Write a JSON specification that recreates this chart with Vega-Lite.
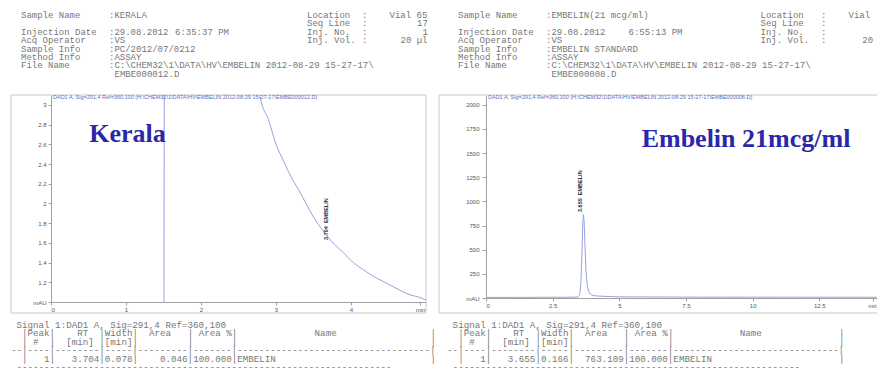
{
  "$schema": "https://vega.github.io/schema/vega-lite/v6.json",
  "padding": {"left": 10, "top": 0, "right": 0, "bottom": 0},
  "bounds": "flush",
  "align": "each",
  "columns": 2,
  "spacing": {"row": 5, "column": 60},
  "config": {
    "view": {"stroke": null},
    "font": "Liberation Sans",
    "axis": {"domainColor": "#a0a0a0", "tickColor": "#a0a0a0", "labelColor": "#555555", "labelFontSize": 6, "labelFont": "Liberation Sans", "tickSize": 3, "labelPadding": 1, "grid": false, "labelOverlap": false}
  },
  "datasets": {
    "hdrL": [
      {"c": 0, "line": 0, "s": "Sample Name"}, {"c": 16, "line": 0, "s": ":KERALA"}, {"c": 52, "line": 0, "s": "Location"}, {"c": 62, "line": 0, "s": ":"}, {"c": 67, "line": 0, "s": "Vial 65"},
      {"c": 52, "line": 1, "s": "Seq Line"}, {"c": 62, "line": 1, "s": ":"}, {"c": 72, "line": 1, "s": "17"},
      {"c": 0, "line": 2, "s": "Injection Date"}, {"c": 16, "line": 2, "s": ":29.08.2012"}, {"c": 28, "line": 2, "s": "6:35:37 PM"}, {"c": 52, "line": 2, "s": "Inj. No."}, {"c": 62, "line": 2, "s": ":"}, {"c": 73, "line": 2, "s": "1"},
      {"c": 0, "line": 3, "s": "Acq Operator"}, {"c": 16, "line": 3, "s": ":VS"}, {"c": 52, "line": 3, "s": "Inj. Vol."}, {"c": 62, "line": 3, "s": ":"}, {"c": 69, "line": 3, "s": "20 µl"},
      {"c": 0, "line": 4, "s": "Sample Info"}, {"c": 16, "line": 4, "s": ":PC/2012/07/0212"},
      {"c": 0, "line": 5, "s": "Method Info"}, {"c": 16, "line": 5, "s": ":ASSAY"},
      {"c": 0, "line": 6, "s": "File Name"}, {"c": 16, "line": 6, "s": ":C:\\CHEM32\\1\\DATA\\HV\\EMBELIN 2012-08-29 15-27-17\\"},
      {"c": 17, "line": 7, "s": "EMBE000012.D"}
    ],
    "hdrR": [
      {"c": 0, "line": 0, "s": "Sample Name"}, {"c": 16, "line": 0, "s": ":EMBELIN(21 mcg/ml)"}, {"c": 55, "line": 0, "s": "Location"}, {"c": 66, "line": 0, "s": ":"}, {"c": 71, "line": 0, "s": "Vial"},
      {"c": 55, "line": 1, "s": "Seq Line"}, {"c": 66, "line": 1, "s": ":"},
      {"c": 0, "line": 2, "s": "Injection Date"}, {"c": 16, "line": 2, "s": ":29.08.2012"}, {"c": 31, "line": 2, "s": "6:55:13 PM"}, {"c": 55, "line": 2, "s": "Inj. No."}, {"c": 66, "line": 2, "s": ":"},
      {"c": 0, "line": 3, "s": "Acq Operator"}, {"c": 16, "line": 3, "s": ":VS"}, {"c": 55, "line": 3, "s": "Inj. Vol."}, {"c": 66, "line": 3, "s": ":"}, {"c": 73.5, "line": 3, "s": "20"},
      {"c": 0, "line": 4, "s": "Sample Info"}, {"c": 16, "line": 4, "s": ":EMBELIN STANDARD"},
      {"c": 0, "line": 5, "s": "Method Info"}, {"c": 16, "line": 5, "s": ":ASSAY"},
      {"c": 0, "line": 6, "s": "File Name"}, {"c": 16, "line": 6, "s": ":C:\\CHEM32\\1\\DATA\\HV\\EMBELIN 2012-08-29 15-27-17\\"},
      {"c": 17, "line": 7, "s": "EMBE000008.D"}
    ],
    "tblL": [
      {"c": 1, "line": 0, "s": "Signal 1:DAD1 A, Sig=291,4 Ref=360,100"},
      {"c": 2, "line": 1, "s": "|Peak|"}, {"c": 12, "line": 1, "s": "RT"}, {"c": 16, "line": 1, "s": "|"}, {"c": 17, "line": 1, "s": "Width"}, {"c": 22, "line": 1, "s": "|"}, {"c": 25, "line": 1, "s": "Area"}, {"c": 32, "line": 1, "s": "|"}, {"c": 34, "line": 1, "s": "Area %"}, {"c": 40, "line": 1, "s": "|"}, {"c": 55, "line": 1, "s": "Name"}, {"c": 76, "line": 1, "s": "|"},
      {"c": 2, "line": 2, "s": "|"}, {"c": 4, "line": 2, "s": "#"}, {"c": 7, "line": 2, "s": "|"}, {"c": 10, "line": 2, "s": "[min]"}, {"c": 16, "line": 2, "s": "|"}, {"c": 17, "line": 2, "s": "[min]"}, {"c": 22, "line": 2, "s": "|"}, {"c": 32, "line": 2, "s": "|"}, {"c": 40, "line": 2, "s": "|"}, {"c": 76, "line": 2, "s": "|"},
      {"c": 0, "line": 3, "s": "--|----|--------|-----|---------|-------|-----------------------------------|"},
      {"c": 2, "line": 4, "s": "|"}, {"c": 6, "line": 4, "s": "1|"}, {"c": 11, "line": 4, "s": "3.704|"}, {"c": 17, "line": 4, "s": "0.078|"}, {"c": 27, "line": 4, "s": "0.046|"}, {"c": 33, "line": 4, "s": "100.000|EMBELIN"}, {"c": 76, "line": 4, "s": "|"},
      {"c": 1, "line": 5, "s": "--------------------------------------------------------------------"}
    ],
    "tblR": [
      {"c": 1, "line": 0, "s": "Signal 1:DAD1 A, Sig=291,4 Ref=360,100"},
      {"c": 2, "line": 1, "s": "|Peak|"}, {"c": 12, "line": 1, "s": "RT"}, {"c": 16, "line": 1, "s": "|"}, {"c": 17, "line": 1, "s": "Width"}, {"c": 22, "line": 1, "s": "|"}, {"c": 25, "line": 1, "s": "Area"}, {"c": 32, "line": 1, "s": "|"}, {"c": 34, "line": 1, "s": "Area %"}, {"c": 40, "line": 1, "s": "|"}, {"c": 53, "line": 1, "s": "Name"}, {"c": 71, "line": 1, "s": "|"},
      {"c": 2, "line": 2, "s": "|"}, {"c": 4, "line": 2, "s": "#"}, {"c": 7, "line": 2, "s": "|"}, {"c": 10, "line": 2, "s": "[min]"}, {"c": 16, "line": 2, "s": "|"}, {"c": 17, "line": 2, "s": "[min]"}, {"c": 22, "line": 2, "s": "|"}, {"c": 32, "line": 2, "s": "|"}, {"c": 40, "line": 2, "s": "|"}, {"c": 71, "line": 2, "s": "|"},
      {"c": 0, "line": 3, "s": "--|----|--------|-----|---------|-------|------------------------------|"},
      {"c": 2, "line": 4, "s": "|"}, {"c": 6, "line": 4, "s": "1|"}, {"c": 11, "line": 4, "s": "3.655|"}, {"c": 17, "line": 4, "s": "0.166|"}, {"c": 25, "line": 4, "s": "763.109|"}, {"c": 33, "line": 4, "s": "100.000|EMBELIN"}, {"c": 71, "line": 4, "s": "|"},
      {"c": 1, "line": 5, "s": "---------------------------------------------------------------"}
    ],
    "kerala": [
      {"t": 0, "v": 0.95}, {"t": 1.505, "v": 0.95}, {"t": 1.515, "v": 6}, {"t": 2.70, "v": 3.9}, {"t": 2.76, "v": 3.2},
      {"t": 2.80, "v": 3.04}, {"t": 2.9, "v": 2.85}, {"t": 3.0, "v": 2.6}, {"t": 3.1, "v": 2.43}, {"t": 3.2, "v": 2.27},
      {"t": 3.3, "v": 2.14}, {"t": 3.4, "v": 2.0}, {"t": 3.5, "v": 1.86}, {"t": 3.6, "v": 1.75}, {"t": 3.7, "v": 1.65},
      {"t": 3.8, "v": 1.57}, {"t": 3.9, "v": 1.5}, {"t": 4.0, "v": 1.42}, {"t": 4.1, "v": 1.36}, {"t": 4.2, "v": 1.31},
      {"t": 4.3, "v": 1.26}, {"t": 4.4, "v": 1.22}, {"t": 4.5, "v": 1.18}, {"t": 4.6, "v": 1.14}, {"t": 4.7, "v": 1.10},
      {"t": 4.8, "v": 1.07}, {"t": 4.9, "v": 1.05}, {"t": 5.0, "v": 1.02}
    ],
    "embelin": [
      {"t": 0, "v": 6}, {"t": 1, "v": 6}, {"t": 2, "v": 7}, {"t": 3, "v": 8}, {"t": 3.45, "v": 10}, {"t": 3.52, "v": 40},
      {"t": 3.56, "v": 160}, {"t": 3.6, "v": 480}, {"t": 3.63, "v": 790}, {"t": 3.655, "v": 862}, {"t": 3.68, "v": 790},
      {"t": 3.71, "v": 560}, {"t": 3.75, "v": 280}, {"t": 3.8, "v": 120}, {"t": 3.87, "v": 55}, {"t": 3.95, "v": 32},
      {"t": 4.1, "v": 22}, {"t": 4.5, "v": 16}, {"t": 5, "v": 12}, {"t": 8, "v": 9}, {"t": 14.7, "v": 8}
    ],
    "kpk": [{"t": 3.704, "v": 1.63, "s": "3.704\u00a0\u00a0EMBELIN"}],
    "epk": [{"t": 3.655, "v": 890, "s": "3.655\u00a0\u00a0EMBELIN"}],
    "one": [{}]
  },
  "concat": [
    {
      "width": 375, "height": 90,
      "data": {"name": "hdrL"},
      "mark": {"type": "text", "align": "left", "baseline": "middle", "font": "Liberation Mono", "fontSize": 9, "color": "#777777"},
      "encoding": {
        "x": {"field": "c", "type": "quantitative", "scale": {"domain": [5.4545, 73.636], "nice": false, "zero": false}, "axis": null},
        "y": {"field": "line", "type": "quantitative", "scale": {"domain": [-1.786, 8.929], "reverse": true, "nice": false, "zero": false}, "axis": null},
        "text": {"field": "s"}
      }
    },
    {
      "width": 392, "height": 90,
      "data": {"name": "hdrR"},
      "mark": {"type": "text", "align": "left", "baseline": "middle", "font": "Liberation Mono", "fontSize": 9, "color": "#777777"},
      "encoding": {
        "x": {"field": "c", "type": "quantitative", "scale": {"domain": [5.091, 76.364], "nice": false, "zero": false}, "axis": null},
        "y": {"field": "line", "type": "quantitative", "scale": {"domain": [-1.786, 8.929], "reverse": true, "nice": false, "zero": false}, "axis": null},
        "text": {"field": "s"}
      }
    },
    {
      "width": 375, "height": 207,
      "title": {"text": "DAD1 A, Sig=291,4 Ref=360,100 (H:\\CHEM32\\1\\DATA\\HV\\EMBELIN 2012-08-29 15-27-17\\EMBE000012.D)", "anchor": "start", "frame": "group", "offset": -6, "fontSize": 5.5, "fontWeight": "normal", "color": "#5b6bc8", "font": "Liberation Sans", "dx": 2},
      "layer": [
        {
          "data": {"name": "one"},
          "mark": {"type": "rect", "filled": false, "color": "#c8c8c8", "strokeWidth": 1},
          "encoding": {
            "x": {"datum": -0.533, "type": "quantitative", "scale": {"domain": [0, 5], "nice": false, "zero": false},
                  "axis": {"title": null, "labelOverlap": false, "values": [0, 1, 2, 3, 4, 4.92], "labelExpr": "datum.value > 4.5 ? 'min' : format(datum.value, '~g')"}},
            "x2": {"datum": 5},
            "y": {"datum": 3.1, "type": "quantitative", "scale": {"domain": [1, 3.1], "nice": false, "zero": false},
                  "axis": {"title": null, "labelOverlap": false, "values": [1, 1.2, 1.4, 1.6, 1.8, 2, 2.2, 2.4, 2.6, 2.8, 3], "labelPadding": 2, "labelExpr": "datum.value == 1 ? 'mAU' : format(datum.value, '~g')"}},
            "y2": {"datum": 0.888}
          }
        },
        {
          "data": {"name": "kerala"},
          "mark": {"type": "line", "clip": true, "color": "#9ba1de", "strokeWidth": 1, "interpolate": "monotone"},
          "encoding": {
            "x": {"field": "t", "type": "quantitative", "scale": {"domain": [0, 5], "nice": false, "zero": false},
                  "axis": {"title": null, "labelOverlap": false, "values": [0, 1, 2, 3, 4, 4.92], "labelExpr": "datum.value > 4.5 ? 'min' : format(datum.value, '~g')"}},
            "y": {"field": "v", "type": "quantitative", "scale": {"domain": [1, 3.1], "nice": false, "zero": false},
                  "axis": {"title": null, "labelOverlap": false, "values": [1, 1.2, 1.4, 1.6, 1.8, 2, 2.2, 2.4, 2.6, 2.8, 3], "labelPadding": 2, "labelExpr": "datum.value == 1 ? 'mAU' : format(datum.value, '~g')"}}
          }
        },
        {
          "data": {"name": "kpk"},
          "mark": {"type": "text", "angle": 270, "align": "left", "baseline": "bottom", "fontSize": 5.5, "fontWeight": "bold", "color": "#333333"},
          "encoding": {
            "x": {"field": "t", "type": "quantitative", "scale": {"domain": [0, 5], "nice": false, "zero": false},
                  "axis": {"title": null, "labelOverlap": false, "values": [0, 1, 2, 3, 4, 4.92], "labelExpr": "datum.value > 4.5 ? 'min' : format(datum.value, '~g')"}},
            "y": {"field": "v", "type": "quantitative", "scale": {"domain": [1, 3.1], "nice": false, "zero": false},
                  "axis": {"title": null, "labelOverlap": false, "values": [1, 1.2, 1.4, 1.6, 1.8, 2, 2.2, 2.4, 2.6, 2.8, 3], "labelPadding": 2, "labelExpr": "datum.value == 1 ? 'mAU' : format(datum.value, '~g')"}},
            "text": {"field": "s"}
          }
        },
        {
          "data": {"name": "one"},
          "mark": {"type": "text", "text": "Kerala", "font": "Liberation Serif", "fontWeight": "bold", "fontSize": 26, "color": "#2a28a8", "align": "center", "baseline": "alphabetic"},
          "encoding": {
            "x": {"datum": 1.02, "type": "quantitative", "scale": {"domain": [0, 5], "nice": false, "zero": false},
                  "axis": {"title": null, "labelOverlap": false, "values": [0, 1, 2, 3, 4, 4.92], "labelExpr": "datum.value > 4.5 ? 'min' : format(datum.value, '~g')"}},
            "y": {"datum": 2.62, "type": "quantitative", "scale": {"domain": [1, 3.1], "nice": false, "zero": false},
                  "axis": {"title": null, "labelOverlap": false, "values": [1, 1.2, 1.4, 1.6, 1.8, 2, 2.2, 2.4, 2.6, 2.8, 3], "labelPadding": 2, "labelExpr": "datum.value == 1 ? 'mAU' : format(datum.value, '~g')"}}
          }
        }
      ]
    },
    {
      "width": 392, "height": 203,
      "title": {"text": "DAD1 A, Sig=291,4 Ref=360,100 (H:\\CHEM32\\1\\DATA\\HV\\EMBELIN 2012-08-29 15-27-17\\EMBE000008.D)", "anchor": "start", "frame": "group", "offset": -6, "fontSize": 5.5, "fontWeight": "normal", "color": "#5b6bc8", "font": "Liberation Sans", "dx": 2},
      "layer": [
        {
          "data": {"name": "one"},
          "mark": {"type": "rect", "filled": false, "color": "#c8c8c8", "strokeWidth": 1},
          "encoding": {
            "x": {"datum": -1.76, "type": "quantitative", "scale": {"domain": [0, 14.7], "nice": false, "zero": false},
                  "axis": {"title": null, "labelOverlap": false, "values": [0, 2.5, 5, 7.5, 10, 12.5, 14.5], "labelExpr": "datum.value > 14 ? 'min' : format(datum.value, '~g')"}},
            "x2": {"datum": 15},
            "y": {"datum": 2100, "type": "quantitative", "scale": {"domain": [0, 2100], "nice": false, "zero": false},
                  "axis": {"title": null, "labelOverlap": false, "values": [0, 250, 500, 750, 1000, 1250, 1500, 1750, 2000], "tickSize": 4, "labelPadding": 3, "labelExpr": "datum.value == 0 ? 'mAU' : format(datum.value, 'd')"}},
            "y2": {"datum": -155}
          }
        },
        {
          "data": {"name": "embelin"},
          "mark": {"type": "line", "clip": true, "color": "#9ba1de", "strokeWidth": 1},
          "encoding": {
            "x": {"field": "t", "type": "quantitative", "scale": {"domain": [0, 14.7], "nice": false, "zero": false},
                  "axis": {"title": null, "labelOverlap": false, "values": [0, 2.5, 5, 7.5, 10, 12.5, 14.5], "labelExpr": "datum.value > 14 ? 'min' : format(datum.value, '~g')"}},
            "y": {"field": "v", "type": "quantitative", "scale": {"domain": [0, 2100], "nice": false, "zero": false},
                  "axis": {"title": null, "labelOverlap": false, "values": [0, 250, 500, 750, 1000, 1250, 1500, 1750, 2000], "tickSize": 4, "labelPadding": 3, "labelExpr": "datum.value == 0 ? 'mAU' : format(datum.value, 'd')"}}
          }
        },
        {
          "data": {"name": "epk"},
          "mark": {"type": "text", "angle": 270, "align": "left", "baseline": "bottom", "fontSize": 5.5, "fontWeight": "bold", "color": "#333333"},
          "encoding": {
            "x": {"field": "t", "type": "quantitative", "scale": {"domain": [0, 14.7], "nice": false, "zero": false},
                  "axis": {"title": null, "labelOverlap": false, "values": [0, 2.5, 5, 7.5, 10, 12.5, 14.5], "labelExpr": "datum.value > 14 ? 'min' : format(datum.value, '~g')"}},
            "y": {"field": "v", "type": "quantitative", "scale": {"domain": [0, 2100], "nice": false, "zero": false},
                  "axis": {"title": null, "labelOverlap": false, "values": [0, 250, 500, 750, 1000, 1250, 1500, 1750, 2000], "tickSize": 4, "labelPadding": 3, "labelExpr": "datum.value == 0 ? 'mAU' : format(datum.value, 'd')"}},
            "text": {"field": "s"}
          }
        },
        {
          "data": {"name": "one"},
          "mark": {"type": "text", "text": "Embelin 21mcg/ml", "font": "Liberation Serif", "fontWeight": "bold", "fontSize": 26, "color": "#2a28a8", "align": "center", "baseline": "alphabetic"},
          "encoding": {
            "x": {"datum": 9.75, "type": "quantitative", "scale": {"domain": [0, 14.7], "nice": false, "zero": false},
                  "axis": {"title": null, "labelOverlap": false, "values": [0, 2.5, 5, 7.5, 10, 12.5, 14.5], "labelExpr": "datum.value > 14 ? 'min' : format(datum.value, '~g')"}},
            "y": {"datum": 1565, "type": "quantitative", "scale": {"domain": [0, 2100], "nice": false, "zero": false},
                  "axis": {"title": null, "labelOverlap": false, "values": [0, 250, 500, 750, 1000, 1250, 1500, 1750, 2000], "tickSize": 4, "labelPadding": 3, "labelExpr": "datum.value == 0 ? 'mAU' : format(datum.value, 'd')"}}
          }
        }
      ]
    },
    {
      "width": 375, "height": 65,
      "data": {"name": "tblL"},
      "mark": {"type": "text", "align": "left", "baseline": "middle", "font": "Liberation Mono", "fontSize": 9.2, "color": "#777777"},
      "encoding": {
        "x": {"field": "c", "type": "quantitative", "scale": {"domain": [7.246, 75.18], "nice": false, "zero": false}, "axis": null},
        "y": {"field": "line", "type": "quantitative", "scale": {"domain": [-2.143, 5.595], "reverse": true, "nice": false, "zero": false}, "axis": null},
        "text": {"field": "s"}
      }
    },
    {
      "width": 392, "height": 65,
      "data": {"name": "tblR"},
      "mark": {"type": "text", "align": "left", "baseline": "middle", "font": "Liberation Mono", "fontSize": 9.2, "color": "#777777"},
      "encoding": {
        "x": {"field": "c", "type": "quantitative", "scale": {"domain": [7.047, 78.06], "nice": false, "zero": false}, "axis": null},
        "y": {"field": "line", "type": "quantitative", "scale": {"domain": [-2.143, 5.595], "reverse": true, "nice": false, "zero": false}, "axis": null},
        "text": {"field": "s"}
      }
    }
  ]
}
